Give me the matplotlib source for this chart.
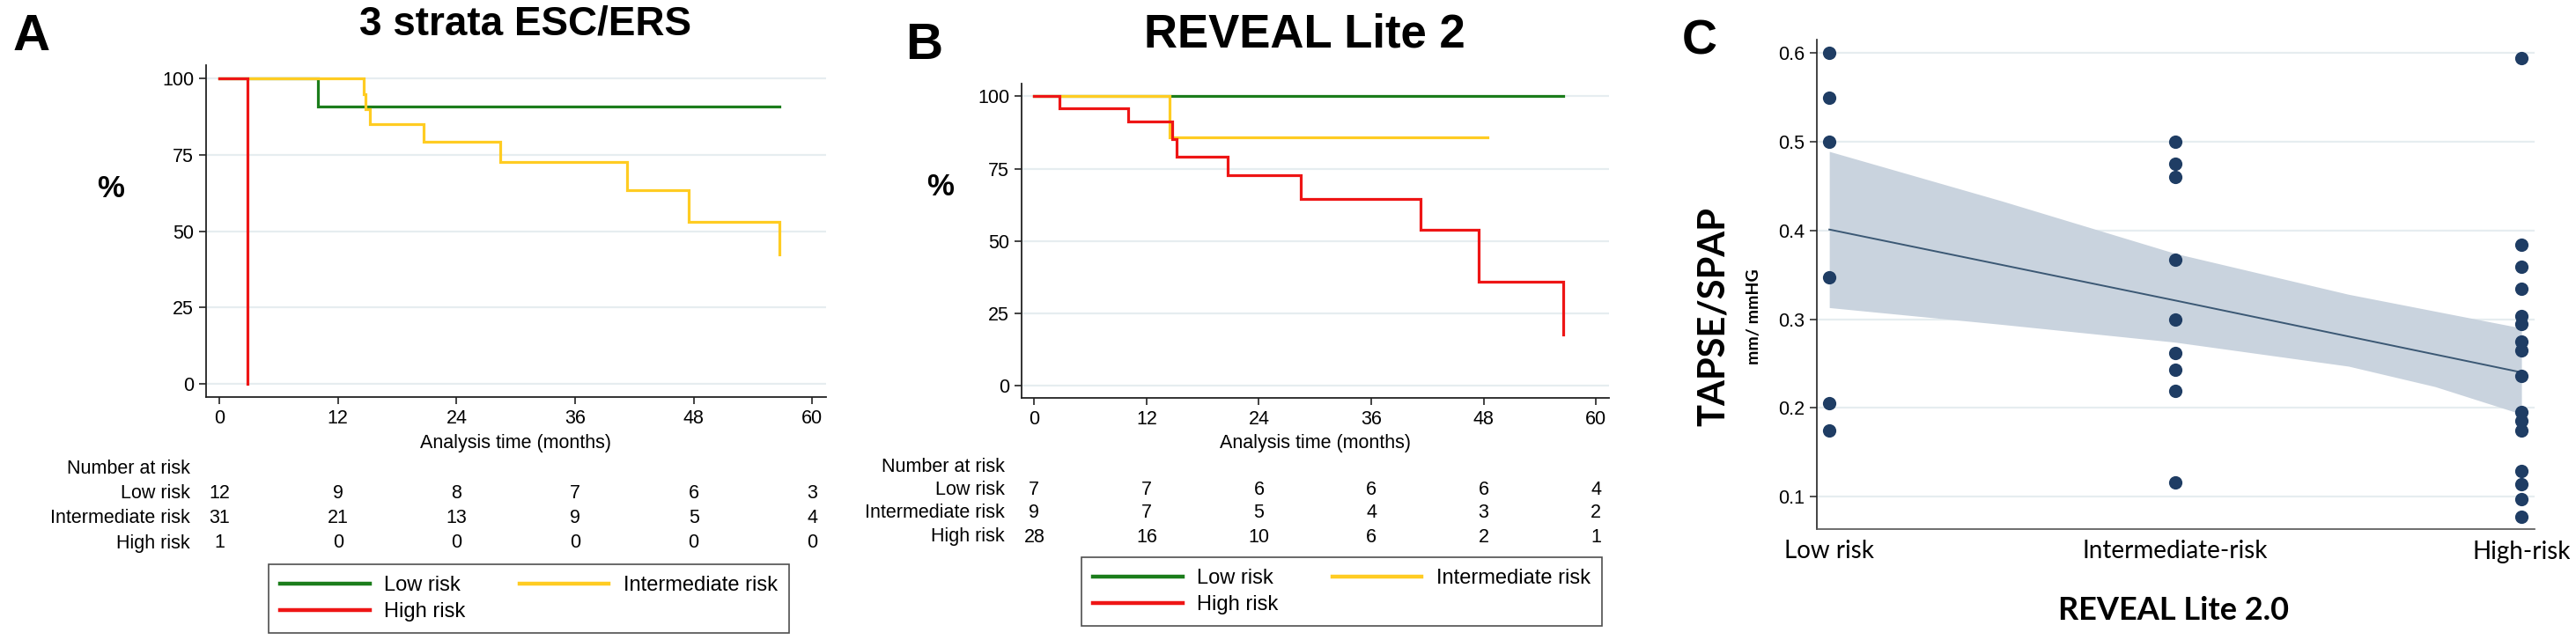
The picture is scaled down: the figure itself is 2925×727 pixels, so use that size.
import matplotlib
matplotlib.use("Agg")
import matplotlib.pyplot as plt
import matplotlib.transforms as mtransforms
from matplotlib.lines import Line2D

W, H = 2925, 727
NARROW = ["Liberation Sans Narrow", "Liberation Sans", "DejaVu Sans"]
SANS = ["Liberation Sans", "DejaVu Sans"]
CAL = ["Lato", "Open Sans", "DejaVu Sans"]

GREEN = "#1b7d1b"
GOLD = "#ffcc22"
RED = "#ee1515"
GRID = "#e6edf0"

# ---- panel A : 3 strata ESC/ERS ----
a_low_t = [0, 10.0, 56.7]
a_low_s = [100, 90.9, 90.9]
a_int_t = [0, 14.6, 14.8, 15.2, 20.7, 28.4, 41.3, 47.5, 56.7]
a_int_s = [100, 95.0, 90.0, 85.0, 79.3, 72.8, 63.5, 53.0, 42.4]
a_high_t = [0, 2.8]
a_high_s = [100, 0]
a_risk_low = [12, 9, 8, 7, 6, 3]
a_risk_int = [31, 21, 13, 9, 5, 4]
a_risk_high = [1, 0, 0, 0, 0, 0]

# ---- panel B : REVEAL Lite 2 ----
b_low_t = [0, 56.5]
b_low_s = [100, 100]
b_int_t = [0, 14.5, 48.4]
b_int_s = [100, 85.7, 85.7]
b_high_t = [0, 2.7, 10.0, 14.7, 15.2, 20.7, 28.5, 41.3, 47.5, 56.5]
b_high_s = [100, 96.0, 91.3, 85.3, 79.0, 72.6, 64.5, 53.8, 35.9, 17.5]
b_risk_low = [7, 7, 6, 6, 6, 4]
b_risk_int = [9, 7, 5, 4, 3, 2]
b_risk_high = [28, 16, 10, 6, 2, 1]

time_ticks = [0, 12, 24, 36, 48, 60]
pct_ticks = [0, 25, 50, 75, 100]
groups = ["Low risk", "Intermediate risk", "High risk"]

# ---- panel C : TAPSE/SPAP by REVEAL Lite 2.0 ----
c_cats = ["Low risk", "Intermediate-risk", "High-risk"]
c_low = [0.600, 0.550, 0.500, 0.347, 0.205, 0.175]
c_int = [0.500, 0.475, 0.460, 0.367, 0.300, 0.262, 0.243, 0.219, 0.116]
c_high = [0.594, 0.384, 0.359, 0.334, 0.303, 0.295, 0.275, 0.265, 0.236,
          0.195, 0.185, 0.175, 0.129, 0.114, 0.097, 0.077]
c_fit = [0.401, 0.321, 0.240]
c_band_x = [0, 0.5, 1, 1.5, 1.75, 2]
c_band_lo = [0.313, 0.294, 0.274, 0.247, 0.224, 0.193]
c_band_hi = [0.489, 0.433, 0.374, 0.328, 0.309, 0.290]

fig = plt.figure(figsize=(W / 100, H / 100), dpi=100)


def px_axes(left, top, right, bottom):
    return fig.add_axes([left / W, 1 - bottom / H, (right - left) / W, (bottom - top) / H])


def fy(y):
    return 1 - y / H


def km_panel(box, curves, risks, letter, title, title_font, title_size, letter_xy,
             title_xy, pct_xy, lab_x, rows_y, xtitle_y, leg_xy):
    ax = px_axes(*box)
    for (t, s), col in zip(curves, [GREEN, GOLD, RED]):
        ax.step(t, s, where="post", color=col, lw=2.3, solid_joinstyle="miter")
    ax.set_xlim(-1.35, 61.4)
    ax.set_ylim(-4.3, 104.4)
    ax.set_xticks(time_ticks)
    ax.set_yticks(pct_ticks)
    ax.set_yticklabels([str(v) for v in pct_ticks])
    for sp in ["top", "right"]:
        ax.spines[sp].set_visible(False)
    for sp in ["left", "bottom"]:
        ax.spines[sp].set_color("#222222")
        ax.spines[sp].set_linewidth(1.3)
    ax.tick_params(direction="out", length=6, width=1.2, color="#222222", pad=4,
                   labelsize=15.5)
    for lab in ax.get_xticklabels() + ax.get_yticklabels():
        lab.set_family(NARROW)
    ax.grid(axis="y", color=GRID, lw=1.6)
    ax.set_axisbelow(True)

    fig.text(letter_xy[0] / W, fy(letter_xy[1]), letter, fontsize=42, fontweight="bold",
             family=SANS, ha="center", va="center")
    fig.text(title_xy[0] / W, fy(title_xy[1]), title, fontsize=title_size,
             fontweight="bold", family=title_font, ha="center", va="center")
    fig.text(pct_xy[0] / W, fy(pct_xy[1]), "%", fontsize=25, fontweight="bold",
             family=SANS, ha="center", va="center")

    xmid = (time_ticks[0] + time_ticks[-1]) / 2
    trans = mtransforms.blended_transform_factory(ax.transData, fig.transFigure)
    ax.text(xmid, fy(xtitle_y), "Analysis time (months)", transform=trans, ha="center",
            va="center", fontsize=15.5, family=NARROW)
    fig.text(lab_x / W, fy(rows_y[0]), "Number at risk", ha="right", va="center",
             fontsize=15.5, family=NARROW)
    for name, vals, yy in zip(groups, risks, rows_y[1:]):
        fig.text(lab_x / W, fy(yy), name, ha="right", va="center", fontsize=15.5,
                 family=NARROW)
        for t, v in zip(time_ticks, vals):
            ax.text(t, fy(yy), str(v), transform=trans, ha="center", va="center",
                    fontsize=15.5, family=NARROW)

    handles = [Line2D([], [], color=GREEN, lw=3.2), Line2D([], [], color=RED, lw=3.2),
               Line2D([], [], color=GOLD, lw=3.2)]
    labels = [groups[0], groups[2], groups[1]]
    leg = fig.legend(handles, labels, loc="upper left",
                     bbox_to_anchor=(leg_xy[0] / W, fy(leg_xy[1])), ncol=2,
                     frameon=True, fancybox=False, borderaxespad=0, handlelength=4.3,
                     handletextpad=0.7, columnspacing=2.6, labelspacing=0.35,
                     borderpad=0.55, prop={"family": NARROW, "size": 17})
    leg.get_frame().set_edgecolor("#222222")
    leg.get_frame().set_linewidth(1.2)
    return ax


km_panel((234, 74, 938, 451),
         [(a_low_t, a_low_s), (a_int_t, a_int_s), (a_high_t, a_high_s)],
         [a_risk_low, a_risk_int, a_risk_high], "A", "3 strata ESC/ERS", SANS, 33,
         (36, 42), (596, 27), (126, 215), 216, (533, 561, 588, 617), 504, (305, 641))

km_panel((1160, 95, 1827, 452),
         [(b_low_t, b_low_s), (b_int_t, b_int_s), (b_high_t, b_high_s)],
         [b_risk_low, b_risk_int, b_risk_high], "B", "REVEAL Lite 2", NARROW, 38,
         (1049, 52), (1481, 40), (1068, 213), 1141, (531, 557, 583, 610), 503, (1228, 633))

# ---- panel C ----
axc = px_axes(2063, 45, 2878, 601)
axc.fill_between(c_band_x, c_band_lo, c_band_hi, color="#c9d3de", lw=0, zorder=1)
axc.plot(range(len(c_cats)), c_fit, color="#3b5874", lw=1.4, zorder=2)
for i, vals in enumerate([c_low, c_int, c_high]):
    axc.scatter([i] * len(vals), vals, s=120, color="#1f3d64", lw=0, zorder=3)
axc.set_xlim(-0.036, 2.038)
axc.set_ylim(0.0634, 0.615)
axc.set_yticks([0.1, 0.2, 0.3, 0.4, 0.5, 0.6])
axc.set_yticklabels(["0.1", "0.2", "0.3", "0.4", "0.5", "0.6"])
axc.set_xticks(range(len(c_cats)))
axc.set_xticklabels(c_cats)
for sp in ["top", "right"]:
    axc.spines[sp].set_visible(False)
axc.spines["left"].set_color("#222222")
axc.spines["left"].set_linewidth(1.2)
axc.spines["bottom"].set_color("#555555")
axc.spines["bottom"].set_linewidth(1.2)
axc.tick_params(axis="y", direction="out", length=6, width=1.1, color="#222222",
                labelsize=15.5, pad=4)
axc.tick_params(axis="x", length=0, labelsize=20, pad=9)
for lab in axc.get_yticklabels():
    lab.set_family(NARROW)
for lab in axc.get_xticklabels():
    lab.set_family(CAL)
axc.grid(axis="y", color=GRID, lw=1.6)
axc.set_axisbelow(True)

fig.text(1930 / W, fy(47), "C", fontsize=40, fontweight="bold", family=SANS,
         ha="center", va="center")
fig.text(1946 / W, fy(360), "TAPSE/SPAP", rotation=90, fontsize=30, fontweight="bold",
         family=CAL, ha="center", va="center")
fig.text(1991 / W, fy(360), "mm/ mmHG", rotation=90, fontsize=14, fontweight="bold",
         family=CAL, ha="center", va="center")
fig.text(2468 / W, fy(694), "REVEAL Lite 2.0", fontsize=26, fontweight="bold",
         family=CAL, ha="center", va="center")

fig.savefig("out.png", dpi=100)
